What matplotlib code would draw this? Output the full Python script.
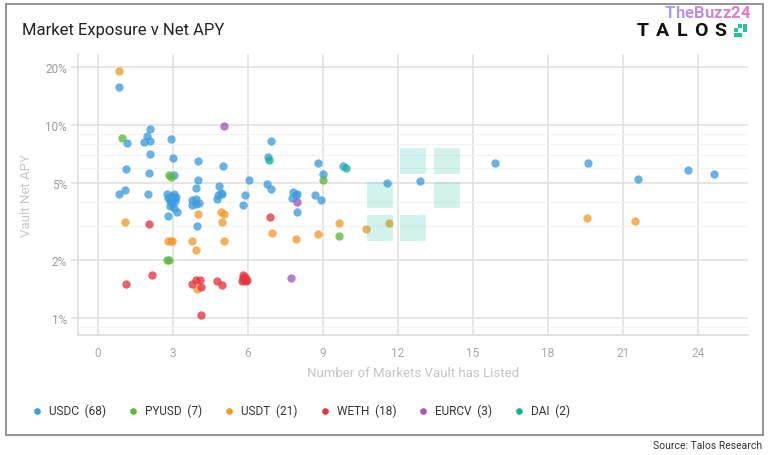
import matplotlib
matplotlib.use("Agg")
import matplotlib.pyplot as plt
from matplotlib.patches import Rectangle
from matplotlib.ticker import FixedLocator, FuncFormatter, NullFormatter
import matplotlib.colors as mcolors

plt.rcParams['font.family'] = ['Roboto', 'DejaVu Sans']

# ---- data (x = number of markets listed, y = vault net APY in %) ----
usdc_x = [0.85, 1.17, 2.09, 1.96, 1.84, 2.07, 2.90, 6.93, 2.08, 3.01, 3.99, 5.01, 6.80,
          8.81, 9.80, 1.12, 2.04, 3.04, 6.03, 9.00, 4.00, 3.91, 4.85, 6.77, 6.91, 0.83,
          1.07, 1.99, 2.77, 3.05, 2.81, 2.92, 3.08, 2.97, 2.88, 3.15, 2.81, 3.77, 3.91,
          4.04, 3.75, 3.95, 4.97, 4.79, 4.75, 5.88, 5.81, 7.81, 7.95, 7.75, 7.97, 8.68,
          8.91, 11.57, 12.89, 15.88, 19.59, 21.60, 23.60, 24.64, 3.10, 2.86, 3.02, 3.90,
          4.90, 7.90, 3.05, 2.95]
usdc_y = [15.8, 8.1, 9.57, 8.77, 8.15, 8.3, 8.5, 8.3, 7.09, 6.76, 6.55, 6.17, 6.84,
          6.34, 6.14, 5.9, 5.67, 5.49, 5.19, 5.55, 5.17, 4.71, 4.85, 4.97, 4.68, 4.42,
          4.62, 4.37, 4.42, 4.42, 4.2, 4.08, 4.03, 3.92, 3.8, 3.53, 3.37, 4.08, 4.12,
          3.96, 3.87, 3.01, 4.42, 4.32, 4.12, 4.32, 3.87, 4.51, 4.42, 4.2, 3.54, 4.33,
          4.07, 4.99, 5.13, 6.34, 6.34, 5.23, 5.83, 5.55, 4.25, 4.02, 4.18, 3.92,
          4.45, 4.35, 3.72, 4.3]

pyusd_x = [0.95, 2.83, 2.92, 8.99, 9.64, 2.77, 2.85]
pyusd_y = [8.55, 5.53, 5.38, 5.2, 2.65, 2.01, 2.01]

usdt_x = [0.85, 1.08, 3.99, 4.90, 5.04, 4.97, 9.63, 6.95, 7.92, 8.79, 2.79, 2.97, 3.77,
          5.03, 3.91, 3.95, 19.55, 21.48, 10.71, 11.64, 2.90]
usdt_y = [19.1, 3.16, 3.47, 3.55, 3.47, 3.14, 3.1, 2.76, 2.56, 2.74, 2.52, 2.52, 2.52,
          2.52, 2.26, 1.42, 3.29, 3.19, 2.88, 3.11, 2.52]

weth_x = [2.05, 6.87, 2.17, 1.12, 3.77, 3.91, 4.08, 4.11, 4.77, 4.97, 4.12, 5.79, 5.81,
          5.75, 5.91, 5.84, 5.86, 5.95]
weth_y = [3.08, 3.35, 1.67, 1.50, 1.50, 1.58, 1.58, 1.44, 1.56, 1.49, 1.03, 1.67, 1.62,
          1.56, 1.55, 1.58, 1.64, 1.57]

eurcv_x = [5.04, 7.96, 7.73]
eurcv_y = [9.9, 4.0, 1.62]

dai_x = [6.85, 9.91]
dai_y = [6.57, 6.0]

series = [
    ("USDC", usdc_x, usdc_y, "#3d9ddf"),
    ("PYUSD", pyusd_x, pyusd_y, "#5cb83a"),
    ("USDT", usdt_x, usdt_y, "#f29b2a"),
    ("WETH", weth_x, weth_y, "#e5353f"),
    ("EURCV", eurcv_x, eurcv_y, "#a057bd"),
    ("DAI", dai_x, dai_y, "#14b398"),
]

y_ticks = [1, 2, 5, 10, 20]
x_ticks = [0, 3, 6, 9, 12, 15, 18, 21, 24]

W, H = 768, 456
fig = plt.figure(figsize=(W / 100, H / 100), dpi=100)
fig.patch.set_facecolor("white")

ax = fig.add_axes([78 / W, 1 - 336 / H, 670 / W, 281 / H])
for name, xs, ys, col in series:
    ax.scatter(xs, ys, s=36, color=col, alpha=0.78, linewidths=0,
               label=f"{name}  ({len(xs)})", zorder=3)

ax.set_yscale("log")
ax.set_ylim(0.816, 23.4)
ax.set_xlim(-0.8, 26)
ax.yaxis.set_major_locator(FixedLocator(y_ticks))
ax.yaxis.set_major_formatter(FuncFormatter(lambda v, p: f"{v:g}%"))
ax.yaxis.set_minor_locator(FixedLocator([0.9, 3, 4, 6, 7, 8, 9]))
ax.yaxis.set_minor_formatter(NullFormatter())
ax.set_xticks(x_ticks)

ax.grid(True, which="major", color="#e1e1e1", linewidth=1.2, zorder=0)
ax.grid(True, which="minor", axis="y", color="#f3f3f3", linewidth=0.8, zorder=0)
ax.set_axisbelow(True)
for side in ["top", "right"]:
    ax.spines[side].set_visible(False)
for side in ["left", "bottom"]:
    ax.spines[side].set_color("#dddddd")
    ax.spines[side].set_linewidth(1.2)

ax.tick_params(axis="y", which="major", length=5, color="#e1e1e1", width=1.2,
               labelsize=8.5, labelcolor="#9a9a9a", pad=3)
ax.tick_params(axis="y", which="minor", length=0)
ax.tick_params(axis="x", length=0, labelsize=8.5, labelcolor="#a8a8a8", pad=8)

ax.set_xlabel("Number of Markets Vault has Listed", fontsize=9.5, color="#c4c4c4", labelpad=5)
ax.set_ylabel("Vault Net APY", fontsize=9.5, color="#c8c8c8", labelpad=9)

# watermark squares (Talos logo pattern)
cells = [(1, 0), (2, 0), (0, 1), (2, 1), (0, 2), (1, 2)]
for cx, cy in cells:
    x0 = 366.7 + cx * 33.5
    y0 = 149.3 + cy * 33.4
    fig.patches.append(Rectangle((x0 / W, 1 - (y0 + 26) / H), 26 / W, 26 / H,
                                 transform=fig.transFigure, facecolor="#1fc4a3",
                                 alpha=0.2, edgecolor="none", zorder=5))

# small logo squares
for cx, cy in cells:
    x0 = 733.5 + cx * 4.8
    y0 = 24.5 + cy * 4.8
    fig.patches.append(Rectangle((x0 / W, 1 - (y0 + 4) / H), 4 / W, 4 / H,
                                 transform=fig.transFigure, facecolor="#1fc4a3",
                                 edgecolor="none", zorder=5))

# outer frame
fig.patches.append(Rectangle((5.5 / W, 1 - 436 / H), 757 / W, 431 / H,
                             transform=fig.transFigure, fill=False,
                             edgecolor="#8a8a8a", linewidth=1.3, zorder=6))

fig.text(22 / W, 1 - 30 / H, "Market Exposure v Net APY", fontsize=12,
         color="#222222", va="center", ha="left")

for i, ch in enumerate("TALOS"):
    fig.text((643 + i * 19.3) / W, 1 - 31.5 / H, ch, fontsize=14, fontweight="bold",
             color="#111111", va="center", ha="center")

# TheBuzz24 watermark, purple fading to pink, chained letter by letter
c0 = mcolors.to_rgb("#a99cf2")
c1 = mcolors.to_rgb("#e877c9")
word = "TheBuzz24"
prev = None
for i, ch in enumerate(word):
    t = i / (len(word) - 1)
    col = tuple(a + (b - a) * t for a, b in zip(c0, c1))
    if prev is None:
        prev = fig.text(665 / W, 1 - 18.5 / H, ch, fontsize=12, fontweight="bold",
                        color=col, va="baseline", ha="left", zorder=7)
    else:
        prev = ax.annotate(ch, xy=(1, 0), xycoords=prev, va="bottom", ha="left",
                           fontsize=12, fontweight="bold", color=col,
                           annotation_clip=False, zorder=7)

leg = fig.legend(loc="center left", bbox_to_anchor=(28 / W, 1 - 411 / H), ncol=6,
                 frameon=False, fontsize=8.5, handletextpad=0.6, columnspacing=1.9,
                 handlelength=0.8, markerscale=0.8, borderaxespad=0)
for txt in leg.get_texts():
    txt.set_color("#333333")
for h in leg.legend_handles:
    h.set_alpha(1)

fig.text(762 / W, 1 - 446 / H, "Source: Talos Research", fontsize=7.5,
         color="#333333", ha="right", va="center")

fig.savefig("out.png", dpi=100, facecolor="white")
